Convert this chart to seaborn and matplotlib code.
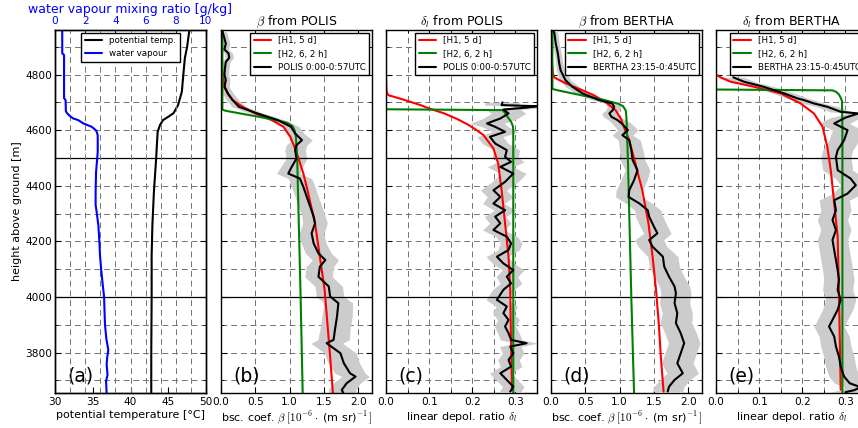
import matplotlib
matplotlib.use("Agg")
import matplotlib.pyplot as plt
import seaborn as sns
from matplotlib.ticker import MultipleLocator, FormatStrFormatter

# ---------------- data ----------------
# panel (a)
wv_h = [4960, 4876, 4870, 4715, 4708, 4668, 4661, 4650, 4642, 4636, 4624, 4612, 4600, 4594, 4582,
        4521, 4450, 4380, 4331, 4305, 4259, 4199, 4150, 4104, 4050, 4001, 3950, 3900, 3850, 3810,
        3780, 3756, 3720, 3697, 3655]
wv = [0.48, 0.48, 0.6, 0.6, 0.7, 0.72, 0.8, 1.0, 1.2, 1.54, 1.88, 2.43, 2.7, 2.76, 2.83,
      2.83, 2.72, 2.69, 2.69, 2.76, 2.87, 2.94, 2.98, 3.05, 3.15, 3.25, 3.28, 3.31, 3.4, 3.53,
      3.45, 3.42, 3.48, 3.38, 3.42]
pt_h = [4960, 4900, 4859, 4800, 4738, 4690, 4661, 4648, 4636, 4618, 4594, 4550, 4499, 4378, 4259,
        4150, 4000, 3800, 3655]
pt = [47.8, 47.5, 47.2, 47.0, 46.8, 46.3, 45.7, 45.0, 44.3, 43.9, 43.6, 43.5, 43.4, 43.1, 42.9,
      42.8, 42.8, 42.75, 42.75]

# panel (b) beta POLIS
hb = [4955, 4947, 4930, 4911, 4890, 4876, 4860, 4845, 4827, 4800, 4780, 4755, 4732, 4708, 4684,
      4660, 4636, 4612, 4588, 4564, 4546, 4528, 4498, 4468, 4444, 4426, 4396, 4360, 4325, 4289,
      4265, 4229, 4193, 4157, 4133, 4109, 4073, 4038, 4002, 3978, 3930, 3882, 3846, 3834, 3798,
      3762, 3726, 3714, 3690, 3666, 3656]
bb = [0.02, 0.03, 0.05, 0.07, 0.05, 0.11, 0.12, 0.07, 0.06, 0.05, 0.07, 0.05, 0.1, 0.17, 0.26,
      0.53, 0.83, 1.02, 1.08, 1.18, 1.10, 1.08, 1.10, 1.03, 0.98, 1.15, 1.2, 1.25, 1.30, 1.35,
      1.37, 1.32, 1.35, 1.42, 1.52, 1.44, 1.42, 1.57, 1.59, 1.71, 1.69, 1.66, 1.64, 1.54, 1.74,
      1.79, 1.88, 1.96, 1.83, 1.76, 1.78]
eb = [0.06, 0.06, 0.06, 0.06, 0.06, 0.06, 0.06, 0.06, 0.06, 0.06, 0.06, 0.07, 0.08, 0.09, 0.1,
      0.1, 0.1, 0.12, 0.13, 0.15, 0.15, 0.15, 0.15, 0.16, 0.17, 0.17, 0.17, 0.17, 0.17, 0.17,
      0.18, 0.18, 0.18, 0.19, 0.19, 0.2, 0.2, 0.2, 0.2, 0.21, 0.22, 0.22, 0.23, 0.23, 0.23,
      0.23, 0.22, 0.2, 0.2, 0.2, 0.2]
rb_h = [4960, 4850, 4800, 4760, 4730, 4708, 4686, 4660, 4636, 4612, 4576, 4534, 4498, 4444, 4384,
        4265, 4145, 4026, 3906, 3786, 3655]
rb = [0.0, 0.01, 0.02, 0.05, 0.1, 0.17, 0.3, 0.5, 0.74, 0.91, 1.01, 1.08, 1.13, 1.2, 1.26,
      1.37, 1.44, 1.51, 1.55, 1.59, 1.63]
gb_h = [4960, 4674, 4670, 4660, 4648, 4636, 4626, 4615, 4600, 4580, 4500, 4000, 3655]
gb = [0.02, 0.02, 0.06, 0.28, 0.55, 0.8, 0.97, 1.04, 1.07, 1.09, 1.11, 1.16, 1.19]

# panel (c) delta POLIS
hc = [4700, 4690, 4686, 4681, 4674, 4660, 4642, 4624, 4612, 4594, 4576, 4552, 4528, 4504, 4486,
      4468, 4444, 4414, 4384, 4360, 4336, 4312, 4289, 4265, 4241, 4217, 4193, 4169, 4145, 4121,
      4097, 4073, 4049, 4026, 3990, 3966, 3942, 3918, 3894, 3870, 3846, 3834, 3822, 3798, 3774,
      3750, 3726, 3702, 3678, 3660]
dc = [0.27, 0.268, 0.35, 0.326, 0.272, 0.284, 0.265, 0.234, 0.253, 0.276, 0.241, 0.253, 0.28, 0.276, 0.29,
      0.265, 0.295, 0.276, 0.249, 0.265, 0.249, 0.276, 0.253, 0.265, 0.249, 0.28, 0.29, 0.284, 0.257, 0.272,
      0.295, 0.28, 0.29, 0.272, 0.257, 0.28, 0.272, 0.284, 0.276, 0.284, 0.29, 0.326, 0.288, 0.295, 0.284,
      0.29, 0.265, 0.28, 0.295, 0.288]
ec = [0.04] * 8 + [0.03] * 12 + [0.025] * 30
rc_h = [4960, 4800, 4740, 4726, 4710, 4690, 4678, 4660, 4640, 4620, 4600, 4582, 4534, 4480, 4384,
        4265, 4145, 4026, 3906, 3666]
rc = [0.0, 0.0, 0.001, 0.005, 0.04, 0.08, 0.10, 0.135, 0.165, 0.19, 0.21, 0.226, 0.249, 0.26, 0.268,
      0.276, 0.284, 0.288, 0.289, 0.292]
gc_h = [4960, 4675, 4672, 4662, 4645, 4630, 4615, 4600, 3655]
gc = [0.0, 0.0, 0.27, 0.276, 0.283, 0.29, 0.294, 0.295, 0.295]

# panel (d) beta BERTHA
hd = [4955, 4947, 4911, 4876, 4840, 4815, 4780, 4756, 4732, 4708, 4696, 4684, 4672, 4660, 4648,
      4636, 4624, 4600, 4582, 4564, 4528, 4492, 4456, 4420, 4384, 4360, 4336, 4312, 4289, 4253,
      4229, 4205, 4181, 4145, 4109, 4073, 4038, 4014, 3978, 3942, 3906, 3870, 3834, 3798, 3762,
      3726, 3702, 3678, 3660]
bd = [0.04, 0.05, 0.07, 0.1, 0.12, 0.14, 0.21, 0.31, 0.46, 0.7, 0.89, 0.92, 0.9, 0.85, 0.88,
      0.97, 1.03, 1.12, 1.04, 1.14, 1.17, 1.19, 1.26, 1.21, 1.14, 1.13, 1.29, 1.41, 1.43, 1.5,
      1.55, 1.43, 1.48, 1.63, 1.65, 1.72, 1.8, 1.82, 1.8, 1.84, 1.82, 1.89, 1.94, 1.89, 1.84,
      1.92, 1.8, 1.72, 1.7]
ed = [0.05, 0.05, 0.05, 0.05, 0.05, 0.06, 0.08, 0.1, 0.1, 0.1, 0.1, 0.1, 0.1, 0.11, 0.12,
      0.13, 0.14, 0.15, 0.15, 0.16, 0.17, 0.18, 0.18, 0.19, 0.19, 0.19, 0.19, 0.19, 0.2, 0.2,
      0.2, 0.21, 0.21, 0.22, 0.22, 0.22, 0.22, 0.22, 0.22, 0.22, 0.23, 0.23, 0.23, 0.23, 0.23,
      0.23, 0.22, 0.22, 0.22]
rd_h = [4960, 4850, 4800, 4789, 4770, 4744, 4726, 4700, 4672, 4640, 4600, 4564, 4498, 4384, 4265,
        4145, 4026, 3906, 3786, 3660]
rd = [0.0, 0.01, 0.03, 0.05, 0.2, 0.45, 0.62, 0.8, 0.94, 1.02, 1.08, 1.14, 1.21, 1.33, 1.42,
      1.48, 1.53, 1.57, 1.6, 1.64]
gd_h = [4960, 4748, 4742, 4725, 4710, 4695, 4686, 4670, 4640, 4500, 4000, 3655]
gd = [0.02, 0.02, 0.12, 0.45, 0.75, 0.98, 1.05, 1.09, 1.1, 1.12, 1.17, 1.21]

# panel (e) delta BERTHA
he = [4790, 4774, 4756, 4732, 4714, 4708, 4696, 4684, 4666, 4660, 4645, 4624, 4600, 4564, 4528,
      4504, 4456, 4426, 4402, 4372, 4348, 4312, 4277, 4241, 4205, 4169, 4133, 4097, 4062, 4026,
      3990, 3954, 3918, 3894, 3858, 3822, 3786, 3750, 3714, 3690, 3676, 3665, 3658]
de = [0.04, 0.065, 0.11, 0.158, 0.189, 0.204, 0.227, 0.258, 0.289, 0.33, 0.30, 0.274, 0.305, 0.297, 0.282,
      0.278, 0.282, 0.312, 0.324, 0.305, 0.274, 0.278, 0.27, 0.278, 0.27, 0.274, 0.278, 0.282, 0.285, 0.282,
      0.289, 0.282, 0.27, 0.262, 0.274, 0.278, 0.285, 0.289, 0.297, 0.31, 0.335, 0.32, 0.30]
ee = [0.025] * 10 + [0.035] * 33
re_h = [4960, 4800, 4790, 4774, 4756, 4732, 4696, 4660, 4612, 4540, 4456, 4337, 4217, 4014, 3667]
re = [0.0, 0.0, 0.01, 0.034, 0.088, 0.15, 0.196, 0.227, 0.247, 0.258, 0.266, 0.274, 0.282, 0.285, 0.289]
ge_h = [4960, 4746, 4743, 4738, 4730, 4720, 4705, 4600, 3655]
ge = [0.0, 0.0, 0.27, 0.278, 0.284, 0.288, 0.292, 0.293, 0.293]

panel_titles = [None, r'$\beta$ from POLIS', r'$\delta_l$ from POLIS',
                r'$\beta$ from BERTHA', r'$\delta_l$ from BERTHA']
panel_letters = ['(a)', '(b)', '(c)', '(d)', '(e)']
legend_labels = ['[H1, 5 d]', '[H2, 6, 2 h]']

# ---------------- style ----------------
sns.set_theme(style='white')
plt.rcParams.update({
    'font.family': ['DejaVu Sans'],
    'mathtext.fontset': 'cm',
    'lines.linewidth': 1.5,
    'xtick.direction': 'in', 'ytick.direction': 'in',
    'xtick.bottom': True, 'ytick.left': True,
    'xtick.top': True, 'ytick.right': True,
    'xtick.major.size': 4, 'ytick.major.size': 4,
    'xtick.minor.size': 2, 'ytick.minor.size': 2,
    'xtick.major.width': 0.8, 'ytick.major.width': 0.8,
    'xtick.minor.width': 0.6, 'ytick.minor.width': 0.6,
    'xtick.major.pad': 3, 'ytick.major.pad': 2,
    'axes.edgecolor': 'black', 'axes.linewidth': 1.0,
    'xtick.color': 'black', 'ytick.color': 'black',
    'xtick.labelsize': 7.6, 'ytick.labelsize': 7.6,
    'axes.labelsize': 8, 'axes.titlesize': 9,
    'axes.labelcolor': 'black', 'text.color': 'black',
    'legend.fontsize': 6.3, 'legend.frameon': True, 'legend.fancybox': False,
    'legend.edgecolor': 'black', 'legend.framealpha': 1.0,
    'axes.labelpad': 2,
})

W, H = 858, 428
fig = plt.figure(figsize=(W / 100, H / 100), dpi=100)
lefts = [55, 221, 386, 551, 716]
axw, axh, axb = 151, 363, 35
axes = [fig.add_axes([l / W, axb / H, axw / W, axh / H]) for l in lefts]

YLIM = (3655, 4960)
GRID = dict(color='0.45', ls=(0, (6, 4)), lw=0.7)


def prof(ax, x, y, color, width=1.5, label=None):
    sns.lineplot(x=x, y=y, orient='y', estimator=None, sort=False, color=color,
                 linewidth=width, ax=ax, label=label, legend=False)
    ax.get_lines()[-1].set_linewidth(width)


def band(ax, y, x, e):
    lo = [a - b for a, b in zip(x, e)]
    hi = [a + b for a, b in zip(x, e)]
    ax.fill_betweenx(y, lo, hi, color='0.8', lw=0)


def common(ax):
    ax.set_ylim(*YLIM)
    ax.yaxis.set_major_locator(MultipleLocator(200))
    ax.yaxis.set_minor_locator(MultipleLocator(100))
    for yy in (4000, 4500):
        ax.axhline(yy, color='black', lw=0.9, zorder=1.5)


# ---- panel a ----
ax = axes[0]
ax2 = ax.twiny()
common(ax)
prof(ax, pt, pt_h, 'black', label='potential temp.')
prof(ax2, wv, wv_h, 'blue', label='water vapour')
ax.set_xlim(30, 50)
ax.xaxis.set_major_locator(MultipleLocator(5))
ax2.set_xlim(0, 10)
ax2.xaxis.set_major_locator(MultipleLocator(2))
ax2.xaxis.set_minor_locator(MultipleLocator(1))
ax2.tick_params(axis='x', which='both', colors='blue', labelcolor='blue')
ax2.tick_params(axis='x', which='minor', length=0)
ax2.set_xlabel('water vapour mixing ratio [g/kg]', color='blue', fontsize=9, labelpad=2)
ax.grid(axis='y', which='both', **GRID)
ax2.grid(axis='x', which='both', **GRID)
ax.set_ylabel('height above ground [m]')
ax.set_xlabel('potential temperature [°C]')
h1 = [l for l in ax.get_lines() if l.get_label() == 'potential temp.'][0]
h2 = [l for l in ax2.get_lines() if l.get_label() == 'water vapour'][0]
ax2.legend([h1, h2], ['potential temp.', 'water vapour'], loc='upper center',
           borderaxespad=0.3)
ax.set_ylim(*YLIM)
ax2.set_ylim(*YLIM)

# ---- panels b-e ----
specs = [
    (axes[1], hb, bb, eb, rb_h, rb, gb_h, gb, 'POLIS 0:00-0:57UTC', 'beta'),
    (axes[2], hc, dc, ec, rc_h, rc, gc_h, gc, 'POLIS 0:00-0:57UTC', 'delta'),
    (axes[3], hd, bd, ed, rd_h, rd, gd_h, gd, 'BERTHA 23:15-0:45UTC', 'beta'),
    (axes[4], he, de, ee, re_h, re, ge_h, ge, 'BERTHA 23:15-0:45UTC', 'delta'),
]
for i, (a, hh, vv, ee_, r_h, r_v, g_h, g_v, lab, kind) in enumerate(specs, start=1):
    band(a, hh, vv, ee_)
    prof(a, r_v, r_h, 'red', label=legend_labels[0])
    prof(a, g_v, g_h, 'green', label=legend_labels[1])
    prof(a, vv, hh, 'black', label=lab)
    common(a)
    if kind == 'beta':
        a.set_xlim(0, 2.2)
        a.xaxis.set_major_locator(MultipleLocator(0.5))
        a.set_xlabel(r'bsc. coef. $\beta\;[10^{-6}\cdot$ (m sr)$^{-1}\,]$')
        a.grid(which='major', **GRID)
        a.grid(axis='y', which='minor', **GRID)
    else:
        a.set_xlim(0, 0.35)
        a.xaxis.set_major_locator(MultipleLocator(0.1))
        a.xaxis.set_minor_locator(MultipleLocator(0.05))
        a.set_xlabel(r'linear depol. ratio $\delta_l$')
        a.grid(which='both', **GRID)
    a.xaxis.set_major_formatter(FormatStrFormatter('%.1f'))
    a.tick_params(axis='y', labelleft=False)
    a.set_ylabel('')
    a.set_title(panel_titles[i], pad=3)
    a.legend(loc='upper right', borderaxespad=0.3)

for a, letter in zip(axes, panel_letters):
    a.text(0.08, 0.022, letter, transform=a.transAxes, fontsize=13.5,
           ha='left', va='bottom', zorder=5)

fig.savefig('out.png', dpi=100)
